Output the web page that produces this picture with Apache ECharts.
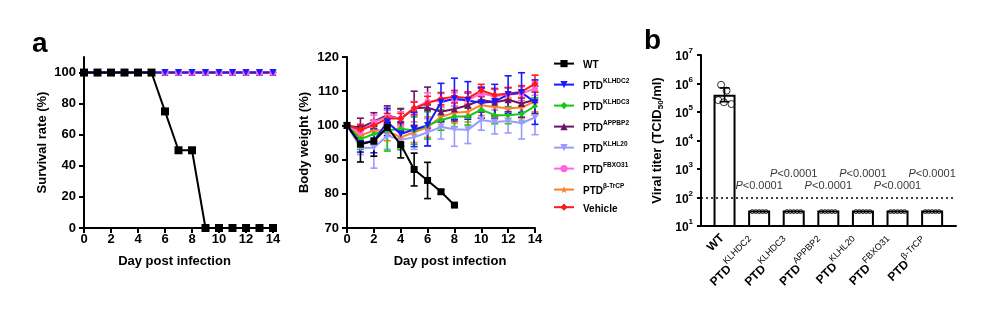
<!DOCTYPE html>
<html>
<head>
<meta charset="utf-8">
<script src="https://cdn.jsdelivr.net/npm/echarts@6/dist/echarts.min.js"></script>
<style>
  html, body { margin: 0; padding: 0; background: #fff; }
  #chart { width: 999px; height: 322px; }
</style>
</head>
<body>
<div id="chart"></div>
<script>
// ---- data ----
const days = [0, 1, 2, 3, 4, 5, 6, 7, 8, 9, 10, 11, 12, 13, 14];
const groupKeys = ['WT', 'KLHDC2', 'KLHDC3', 'APPBP2', 'KLHL20', 'FBXO31', 'β-TrCP', 'Vehicle'];

// survival rate (%)
const survivalWT = [100, 100, 100, 100, 100, 100, 75, 50, 50, 0, 0, 0, 0, 0, 0];
const survivalTreated = [100, 100, 100, 100, 100, 100, 100, 100, 100, 100, 100, 100, 100, 100, 100];

// body weight (%) mean and SD
const weightWT      = [100, 94.5, 95.4, 99.4, 94.4, 87.1, 83.9, 80.6, 76.7];
const sdWT          = [0, 5.2, 4.4, 1.5, 3.9, 4.8, 5.3, 0.6, 0.4];
const weightKLHDC2  = [100, 94.7, 95.5, 101.0, 97.5, 98.8, 100.0, 106.8, 107.8, 107.3, 106.6, 107.0, 109.0, 109.6, 106.8];
const sdKLHDC2      = [0, 2.5, 3.5, 4, 3.5, 5, 6, 5.5, 6, 5.5, 4.5, 5, 5.5, 5.8, 6.5];
const weightKLHDC3  = [100, 96.0, 97.5, 98.5, 99.0, 98.5, 100.0, 101.6, 102.6, 102.6, 104.6, 103.0, 103.0, 103.3, 105.6];
const sdKLHDC3      = [0, 3, 3, 6, 6, 4, 4, 3, 3, 2.5, 2.5, 2.5, 2.5, 2.5, 2.5];
const weightAPPBP2  = [100, 99.3, 101.2, 103.0, 101.8, 105.0, 105.2, 104.0, 104.8, 105.9, 107.4, 106.8, 107.5, 106.4, 107.5];
const sdAPPBP2      = [0, 2.8, 2.5, 2.7, 3, 5, 6, 3, 3.5, 3.5, 3.5, 4, 3.5, 4, 4];
const weightKLHL20  = [100, 93.5, 93.5, 97.0, 95.8, 96.5, 98.0, 99.5, 98.9, 98.7, 101.6, 101.0, 101.3, 100.7, 102.3];
const sdKLHL20      = [0, 2, 6, 4, 3, 3.5, 4, 3.5, 5, 4, 3, 3.5, 3.5, 4.7, 5];
const weightFBXO31  = [100, 98.0, 101.0, 102.5, 102.0, 105.0, 107.0, 107.3, 107.6, 107.5, 109.3, 108.5, 109.0, 109.3, 110.8];
const sdFBXO31      = [0, 2, 2, 2, 2, 2, 2.5, 2, 2, 2, 2, 2, 2, 2, 2];
const weightBTrCP   = [100, 97.0, 98.5, 98.5, 96.5, 98.0, 99.5, 102.5, 103.7, 104.0, 105.9, 105.4, 105.0, 105.2, 107.0];
const sdBTrCP       = [0, 3, 3, 3, 3, 3, 3, 3, 3, 3, 3, 3, 3, 3, 3];
const weightVehicle = [100, 98.8, 100.0, 102.0, 102.0, 105.0, 106.5, 107.8, 108.4, 108.0, 110.2, 108.9, 109.3, 109.8, 112.2];
const sdVehicle     = [0, 1.5, 1.5, 1.5, 1.5, 1.8, 2, 1.8, 1.8, 1.8, 1.8, 1.8, 1.8, 1.8, 2.5];

// viral titer (TCID50/ml)
const titerGroups    = ['WT', 'KLHDC2', 'KLHDC3', 'APPBP2', 'KLHL20', 'FBXO31', 'β-TrCP'];
const titerMean      = [4.0e5, 35, 35, 35, 35, 35, 35];
const titerLowWT     = 2.3e5;
const titerHighWT    = 7.0e5;
const titerPointsWT  = [9.0e5, 5.6e5, 2.6e5, 2.2e5, 1.9e5];
const titerPointsPTD = [32, 32, 32, 32, 32];
const detectionLimit = 100;
const pValues = ['', '<0.0001', '<0.0001', '<0.0001', '<0.0001', '<0.0001', '<0.0001'];
const yTickValues = [10, 100, 1e3, 1e4, 1e5, 1e6, 1e7];

// ---- styles ----
const FONT = 'Liberation Sans, Arial, sans-serif';
const colors = {
  WT: '#000000', KLHDC2: '#1a1aff', KLHDC3: '#14c814', APPBP2: '#6e1464',
  KLHL20: '#9b9bff', FBXO31: '#ff66dd', 'β-TrCP': '#ff7f27', Vehicle: '#ff1a1a'
};
const STAR = 'path://M0,-10L2.35,-3.24L9.51,-3.09L3.8,1.24L5.88,8.09L0,4L-5.88,8.09L-3.8,1.24L-9.51,-3.09L-2.35,-3.24Z';
const symbols = {
  WT: ['rect', 0, 7], KLHDC2: ['triangle', 180, 7], KLHDC3: ['diamond', 0, 6],
  APPBP2: ['triangle', 0, 7], KLHL20: ['triangle', 180, 7], FBXO31: ['circle', 0, 6],
  'β-TrCP': [STAR, 0, 7], Vehicle: ['diamond', 0, 7]
};
const weights = {
  WT: [weightWT, sdWT], KLHDC2: [weightKLHDC2, sdKLHDC2], KLHDC3: [weightKLHDC3, sdKLHDC3],
  APPBP2: [weightAPPBP2, sdAPPBP2], KLHL20: [weightKLHL20, sdKLHL20], FBXO31: [weightFBXO31, sdFBXO31],
  'β-TrCP': [weightBTrCP, sdBTrCP], Vehicle: [weightVehicle, sdVehicle]
};
// drawing order, back to front
const drawOrder = ['KLHL20', 'β-TrCP', 'KLHDC3', 'APPBP2', 'FBXO31', 'Vehicle', 'KLHDC2', 'WT'];
const survivalOrder = ['KLHL20', 'β-TrCP', 'KLHDC3', 'APPBP2', 'Vehicle', 'FBXO31', 'KLHDC2', 'WT'];

const axisLineStyle = { show: true, onZero: false, lineStyle: { color: '#000', width: 2 } };
const axisTickStyle = { show: true, length: 5, lineStyle: { color: '#000', width: 2 } };
const tickLabel = { color: '#000', fontFamily: FONT, fontWeight: 'bold', fontSize: 13, margin: 5 };
const axisName = { color: '#000', fontFamily: FONT, fontWeight: 'bold', fontSize: 13 };

// vertical error bars with caps: each datum is [x, low, high]
function errorBars(data, color, axisIdx, capHalf, width, z) {
  return {
    type: 'custom', xAxisIndex: axisIdx, yAxisIndex: axisIdx, z: z, silent: true, clip: false,
    data: data,
    encode: { x: 0, y: [1, 2] },
    renderItem: function (params, api) {
      const x = api.value(0), lo = api.value(1), hi = api.value(2);
      const top = api.coord([x, hi]), bot = api.coord([x, lo]);
      const st = { stroke: color, lineWidth: width };
      return {
        type: 'group', children: [
          { type: 'line', shape: { x1: top[0], y1: top[1], x2: bot[0], y2: bot[1] }, style: st },
          { type: 'line', shape: { x1: top[0] - capHalf, y1: top[1], x2: top[0] + capHalf, y2: top[1] }, style: st },
          { type: 'line', shape: { x1: bot[0] - capHalf, y1: bot[1], x2: bot[0] + capHalf, y2: bot[1] }, style: st }
        ]
      };
    }
  };
}

function legendText(name) {
  if (name === 'WT' || name === 'Vehicle') return '{b|' + name + '}';
  return '{b|PTD}{s|' + name + '}';
}

const series = [];

// body weight: error bars first, then lines
drawOrder.forEach(function (k) {
  const mean = weights[k][0], sd = weights[k][1];
  const eb = mean.map(function (m, i) { return [days[i], m - sd[i], m + sd[i]]; }).filter(function (d, i) { return sd[i] > 0; });
  series.push(errorBars(eb, colors[k], 1, 3.5, 1.6, 2));
});
drawOrder.forEach(function (k) {
  const mean = weights[k][0];
  series.push({
    type: 'line', name: k, xAxisIndex: 1, yAxisIndex: 1, z: 3, clip: false,
    data: mean.map(function (m, i) { return [days[i], m]; }),
    symbol: symbols[k][0], symbolRotate: symbols[k][1], symbolSize: symbols[k][2],
    lineStyle: { color: colors[k], width: 2 },
    itemStyle: { color: colors[k] },
    showAllSymbol: true, animation: false
  });
});

// survival
survivalOrder.forEach(function (k) {
  const vals = k === 'WT' ? survivalWT : survivalTreated;
  series.push({
    type: 'line', name: k, xAxisIndex: 0, yAxisIndex: 0, z: 3, clip: false,
    data: vals.map(function (v, i) { return [days[i], v]; }),
    symbol: symbols[k][0], symbolRotate: symbols[k][1], symbolSize: k === 'WT' ? 8 : 7,
    lineStyle: { color: colors[k], width: 2 },
    itemStyle: { color: colors[k] },
    showAllSymbol: true, animation: false
  });
});

// viral titer bars
series.push({
  type: 'bar', xAxisIndex: 2, yAxisIndex: 2, barWidth: 22, z: 2, clip: true,
  data: titerMean.map(function (v, i) { return [i, v]; }),
  itemStyle: { color: '#fff', borderColor: '#000', borderWidth: 2 },
  markLine: {
    silent: true, symbol: 'none', label: { show: false },
    lineStyle: { color: '#000', width: 1.5, type: [2, 3] },
    data: [{ yAxis: detectionLimit }]
  },
  animation: false
});
// individual points (open circles)
const jitterWT = [-0.1, 0.06, -0.18, -0.02, 0.2];
const spreadPTD = [-0.2, -0.1, 0, 0.1, 0.2];
const pointData = titerPointsWT.map(function (v, j) { return [jitterWT[j], v]; });
for (let g = 1; g < titerGroups.length; g++) {
  titerPointsPTD.forEach(function (v, j) { pointData.push([g + spreadPTD[j], v]); });
}
series.push({
  type: 'scatter', xAxisIndex: 2, yAxisIndex: 2, z: 5,
  data: pointData,
  symbolSize: function (val) { return val[1] > detectionLimit ? 7 : 4; },
  itemStyle: { color: 'rgba(255,255,255,0)', borderColor: '#000', borderWidth: 1 },
  animation: false
});
// WT SD whisker, drawn over the points
series.push(errorBars([[0, titerLowWT, titerHighWT]], '#000', 2, 5, 1.6, 6));
// P value annotations
series.push({
  type: 'scatter', xAxisIndex: 2, yAxisIndex: 2, z: 6, symbolSize: 0, silent: true,
  data: titerMean.map(function (v, i) { return [i, v]; }).filter(function (d, i) { return pValues[i] !== ''; }),
  label: {
    show: true, position: 'top',
    distance: 0,
    formatter: function (p) { return '{i|P}{n|' + pValues[p.dataIndex + 1] + '}'; },
    rich: {
      i: { fontFamily: FONT, fontSize: 11, fontStyle: 'italic', color: '#000' },
      n: { fontFamily: FONT, fontSize: 11, color: '#000' }
    }
  },
  labelLayout: function (p) {
    return { dy: (p.dataIndex % 2 === 0) ? -19 : -31 };
  },
  animation: false
});

const option = {
  animation: false,
  backgroundColor: '#fff',
  textStyle: { fontFamily: FONT },
  grid: [
    { left: 84, top: 57, width: 189, height: 171 },
    { left: 347, top: 57, width: 188, height: 171 },
    { left: 701, top: 55, width: 255, height: 171 }
  ],
  xAxis: [
    {
      type: 'value', gridIndex: 0, min: 0, max: 14, interval: 2,
      axisLine: axisLineStyle, axisTick: axisTickStyle, axisLabel: tickLabel, splitLine: { show: false },
      name: 'Day post infection', nameLocation: 'middle', nameGap: 27,
      nameTextStyle: Object.assign({}, axisName, { padding: [0, 8, 0, 0] })
    },
    {
      type: 'value', gridIndex: 1, min: 0, max: 14, interval: 2,
      axisLine: axisLineStyle, axisTick: axisTickStyle, axisLabel: tickLabel, splitLine: { show: false },
      name: 'Day post infection', nameLocation: 'middle', nameGap: 27,
      nameTextStyle: Object.assign({}, axisName, { padding: [0, 0, 0, 18] })
    },
    {
      type: 'value', gridIndex: 2, min: -0.68, max: 6.69,
      axisLine: axisLineStyle, axisTick: { show: false }, splitLine: { show: false },
      axisLabel: {
        customValues: [0, 1, 2, 3, 4, 5, 6], rotate: 45, margin: 8, color: '#000',
        formatter: function (v) {
          const k = titerGroups[Math.round(v)];
          return k === 'WT' ? '{w|WT}' : '{b|PTD}{s|' + k + '}';
        },
        rich: {
          w: { fontFamily: FONT, fontWeight: 'bold', fontSize: 12, color: '#000', lineHeight: 16, padding: [0, 3, 0, 0] },
          b: { fontFamily: FONT, fontWeight: 'bold', fontSize: 12, color: '#000', lineHeight: 17, verticalAlign: 'bottom' },
          s: { fontFamily: FONT, fontSize: 9, color: '#000', lineHeight: 10, verticalAlign: 'top', padding: [0, 9, 0, 0] }
        }
      }
    }
  ],
  yAxis: [
    {
      type: 'value', gridIndex: 0, min: 0, max: 110,
      axisLine: axisLineStyle,
      axisTick: Object.assign({}, axisTickStyle, { customValues: [0, 20, 40, 60, 80, 100] }),
      axisLabel: Object.assign({}, tickLabel, { customValues: [0, 20, 40, 60, 80, 100], margin: 8 }),
      splitLine: { show: false },
      name: 'Survival rate (%)', nameLocation: 'middle', nameGap: 35, nameTextStyle: axisName
    },
    {
      type: 'value', gridIndex: 1, min: 70, max: 120, interval: 10,
      axisLine: axisLineStyle, axisTick: axisTickStyle,
      axisLabel: Object.assign({}, tickLabel, { margin: 8 }), splitLine: { show: false },
      name: 'Body weight (%)', nameLocation: 'middle', nameGap: 36, nameTextStyle: axisName
    },
    {
      type: 'log', gridIndex: 2, min: 10, max: 1e7, logBase: 10,
      axisLine: axisLineStyle,
      axisTick: { show: true, length: 4, lineStyle: { color: '#000', width: 2 }, customValues: yTickValues },
      splitLine: { show: false },
      axisLabel: {
        customValues: yTickValues, margin: 8, color: '#000',
        formatter: function (v) { return '{b|10}{s|' + Math.round(Math.log10(v)) + '}'; },
        rich: {
          b: { fontFamily: FONT, fontWeight: 'bold', fontSize: 12, color: '#000', lineHeight: 16, verticalAlign: 'bottom' },
          s: { fontFamily: FONT, fontWeight: 'bold', fontSize: 8, color: '#000', lineHeight: 10, verticalAlign: 'top' }
        }
      },
      name: 'Viral titer (TCID{sub|50}/ml)', nameLocation: 'middle', nameGap: 36,
      nameTextStyle: Object.assign({}, axisName, {
        rich: {
          sub: { fontFamily: FONT, fontWeight: 'bold', fontSize: 8, color: '#000', lineHeight: 16, verticalAlign: 'bottom' }
        }
      })
    }
  ],
  legend: {
    orient: 'vertical', left: 553, top: 60, padding: 0,
    itemWidth: 20, itemHeight: 9, itemGap: 7,
    data: groupKeys,
    formatter: legendText,
    textStyle: {
      color: '#000', padding: [0, 0, 0, 4],
      rich: {
        b: { fontFamily: FONT, fontWeight: 'bold', fontSize: 10, color: '#000', lineHeight: 14, verticalAlign: 'bottom' },
        s: { fontFamily: FONT, fontWeight: 'bold', fontSize: 6.5, color: '#000', lineHeight: 9, verticalAlign: 'top' }
      }
    },
    selectedMode: false
  },
  graphic: [
    { type: 'text', left: 32, top: 30, style: { text: 'a', fontFamily: FONT, fontWeight: 'bold', fontSize: 28, fill: '#000' } },
    { type: 'text', left: 644, top: 27, style: { text: 'b', fontFamily: FONT, fontWeight: 'bold', fontSize: 28, fill: '#000' } }
  ],
  series: series
};

const chart = echarts.init(document.getElementById('chart'), null, { renderer: 'canvas' });
chart.setOption(option);
</script>
</body>
</html>
